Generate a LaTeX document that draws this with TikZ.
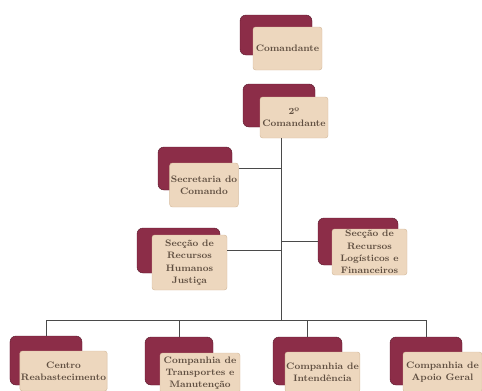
\documentclass[tikz,border=0pt]{standalone}
\usepackage{xcolor}
\usepackage{tikz}
\usetikzlibrary{positioning,calc}

\definecolor{wine}{HTML}{8C2D48}
\definecolor{winedark}{HTML}{5E1B2E}
\definecolor{sand}{HTML}{EDD7BE}
\definecolor{sanddark}{HTML}{D6BC9F}
\definecolor{inkbrown}{HTML}{5F4E40}
\definecolor{linegray}{HTML}{4A4A4A}

\begin{document}
\begin{tikzpicture}[
    x=0.03cm, y=-0.03cm,
    font=\fontsize{8}{10.5}\selectfont\bfseries,
    back/.style={
        draw=winedark,
        fill=wine,
        rounded corners=1.8mm,
        thin,
        inner sep=0pt
    },
    front/.style={
        draw=sanddark,
        fill=sand,
        rounded corners=0.8mm,
        thin,
        inner sep=1pt,
        align=center,
        text=inkbrown
    },
    link/.style={draw=linegray, line width=0.75pt}
]

\useasboundingbox (0,0) rectangle (482,390);

\node[back, minimum width=2.16cm, minimum height=1.2cm] (cmdB) at (276,35) {};
\node[front, minimum width=2.07cm, minimum height=1.29cm] (cmd) at (287.5,48.5)
{Comandante};

\node[back, minimum width=2.16cm, minimum height=1.29cm] (cmd2B) at (279,105.5) {};
\node[front, minimum width=2.04cm, minimum height=1.23cm] (cmd2) at (294,117.5)
{2º\\Comandante};

\node[back, minimum width=2.22cm, minimum height=1.29cm] (secrB) at (195,168.5) {};
\node[front, minimum width=2.04cm, minimum height=1.32cm] (secr) at (204,185)
{Secretaria do\\Comando};

\node[back, minimum width=2.49cm, minimum height=1.35cm] (hrB) at (178.5,250.5) {};
\node[front, minimum width=2.25cm, minimum height=1.65cm] (hr) at (189.5,262.5)
{Secção de\\Recursos\\Humanos\\Justiça};

\node[back, minimum width=2.4cm, minimum height=1.41cm] (logB) at (358,241.5) {};
\node[front, minimum width=2.25cm, minimum height=1.38cm] (log) at (369.5,252)
{Secção de\\Recursos\\Logísticos e\\Financeiros};

\node[back, minimum width=2.16cm, minimum height=1.47cm] (centroB) at (46,360.5) {};
\node[front, minimum width=2.61cm, minimum height=1.2cm] (centro) at (63.5,371)
{Centro\\Reabastecimento};

\node[back, minimum width=2.04cm, minimum height=1.44cm] (transpB) at (179,361) {};
\node[front, minimum width=2.4cm, minimum height=1.2cm] (transp) at (200,373)
{Companhia de\\Transportes e\\Manutenção};

\node[back, minimum width=2.07cm, minimum height=1.44cm] (intB) at (307.5,361) {};
\node[front, minimum width=2.07cm, minimum height=1.2cm] (int) at (322.5,372)
{Companhia de\\Intendência};

\node[back, minimum width=2.16cm, minimum height=1.44cm] (apoioB) at (426,361) {};
\node[front, minimum width=2.37cm, minimum height=1.2cm] (apoio) at (442.5,372)
{Companhia de\\Apoio Geral};

\coordinate (trunk) at (281,320);

\draw[link] (cmd2.south -| trunk) -- (trunk);
\draw[link] (secrB.east -| secr.east) -- (secrB.east -| trunk);
\draw[link] (hrB.east -| hr.east) -- (hrB.east -| trunk);
\draw[link] (logB.west -| trunk) -- (logB.west);
\draw[link] (centroB.north |- trunk) -- (apoioB.north |- trunk);
\draw[link] (centroB.north |- trunk) -- (centroB.north);
\draw[link] (transpB.north |- trunk) -- (transpB.north);
\draw[link] (intB.north |- trunk) -- (intB.north);
\draw[link] (apoioB.north |- trunk) -- (apoioB.north);

\end{tikzpicture}
\end{document}
